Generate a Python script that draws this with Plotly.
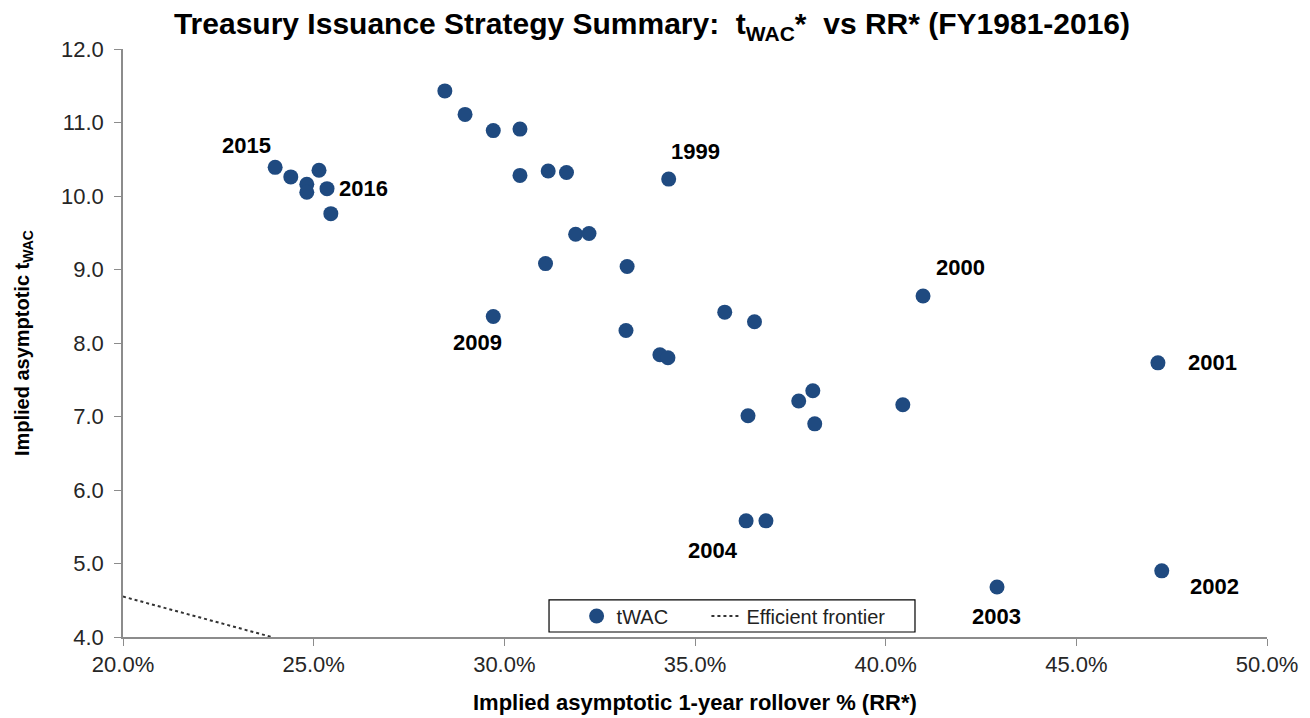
import plotly.graph_objects as go

# Implied asymptotic 1-year rollover % (RR*) and implied asymptotic tWAC
rr_pct = [28.44, 28.97, 29.71, 30.41, 30.41, 31.15, 31.63, 31.87, 32.22, 31.08,
          33.22, 29.71, 33.19, 34.08, 34.29, 34.31, 35.78, 36.56, 40.98, 47.14,
          37.72, 38.09, 38.14, 36.39, 40.45, 36.34, 36.86, 42.92, 47.24, 23.99,
          24.40, 25.14, 24.82, 24.82, 25.35, 25.45]
twac = [11.43, 11.11, 10.89, 10.91, 10.28, 10.34, 10.32, 9.48, 9.49, 9.08,
        9.04, 8.36, 8.17, 7.84, 7.80, 10.23, 8.42, 8.29, 8.64, 7.73,
        7.21, 7.35, 6.90, 7.01, 7.16, 5.58, 5.58, 4.68, 4.90, 10.39,
        10.26, 10.35, 10.16, 10.05, 10.10, 9.76]

# Year labels: (label, index of point)
label_text = ["1999", "2000", "2001", "2002", "2003", "2004", "2009", "2015", "2016"]
label_index = [15, 18, 19, 28, 27, 25, 11, 29, 34]
# pixel offsets of the labels from their points
label_dx = [27, 37, 55, 53, -1, -33, -16, -29, 36]
label_dy = [28, 28, 0, -16, -29, -30, -26, 22, 0]

# Efficient frontier
frontier_rr_pct = [20.0, 23.9]
frontier_twac = [4.55, 4.0]

x_ticks_pct = [20, 25, 30, 35, 40, 45, 50]
y_ticks = [4, 5, 6, 7, 8, 9, 10, 11, 12]

FONT = "Liberation Sans, Arial, sans-serif"
DOT = "#1F4A80"
AXIS = "#8C8C8C"
TICKC = "#262626"
NB = "\u00a0"

fig = go.Figure()
fig.add_trace(go.Scatter(
    x=[v / 100 for v in rr_pct], y=twac, mode="markers", name="tWAC" + NB * 6,
    marker=dict(color=DOT, size=15, line=dict(width=0)),
))
fig.add_trace(go.Scatter(
    x=[v / 100 for v in frontier_rr_pct], y=frontier_twac, mode="lines",
    name="Efficient frontier",
    line=dict(color="#333333", width=2, dash="dot"),
))

for t, i, dx, dy in zip(label_text, label_index, label_dx, label_dy):
    fig.add_annotation(x=rr_pct[i] / 100, y=twac[i], text="<b>%s</b>" % t,
                       showarrow=False, xshift=dx, yshift=dy,
                       font=dict(family=FONT, size=22, color="black"))

fig.add_annotation(xref="paper", yref="paper", x=0.5, y=0, yshift=-80,
                   text="<b>Implied asymptotic 1-year rollover % (RR*)</b>",
                   showarrow=False, font=dict(family=FONT, size=22, color="black"))
fig.add_annotation(xref="paper", yref="paper", x=-0.1, y=0.5, textangle=-90,
                   text="<b>Implied asymptotic t<sub>WAC</sub></b>",
                   showarrow=False, font=dict(family=FONT, size=20, color="black"))

# legend frame
fig.add_shape(type="rect", xref="paper", yref="paper",
              x0=0.3724, x1=0.6923, y0=0.0085, y1=0.063,
              line=dict(color="black", width=1.2), fillcolor="white", layer="above")

fig.update_layout(
    width=1310, height=718,
    margin=dict(l=115, r=51, t=41, b=89),
    paper_bgcolor="white", plot_bgcolor="white",
    title=dict(text="<b>Treasury Issuance Strategy Summary:  t<sub>WAC</sub>*  vs RR* (FY1981-2016)</b>",
               x=0.4916, xanchor="center", y=0.978, yanchor="middle",
               font=dict(family=FONT, size=30, color="black")),
    showlegend=True,
    legend=dict(orientation="h", x=0.3965, y=0.0357, xanchor="left", yanchor="middle",
                borderwidth=0, bgcolor="rgba(0,0,0,0)",
                font=dict(family=FONT, size=20, color="#222222")),
    xaxis=dict(range=[0.2, 0.5], tickvals=[v / 100 for v in x_ticks_pct],
               tickformat=".1%", showgrid=False, zeroline=False,
               showline=True, linecolor=AXIS, linewidth=1.5,
               ticks="outside", ticklen=7, tickcolor=AXIS,
               tickfont=dict(family=FONT, size=22, color=TICKC)),
    yaxis=dict(range=[4, 12], tickvals=y_ticks, tickformat=".1f",
               showgrid=False, zeroline=False,
               showline=True, linecolor=AXIS, linewidth=1.5,
               ticks="outside", ticklen=7, tickcolor=AXIS, ticklabelstandoff=6,
               tickfont=dict(family=FONT, size=22, color=TICKC)),
)

fig.write_html("out.html")
